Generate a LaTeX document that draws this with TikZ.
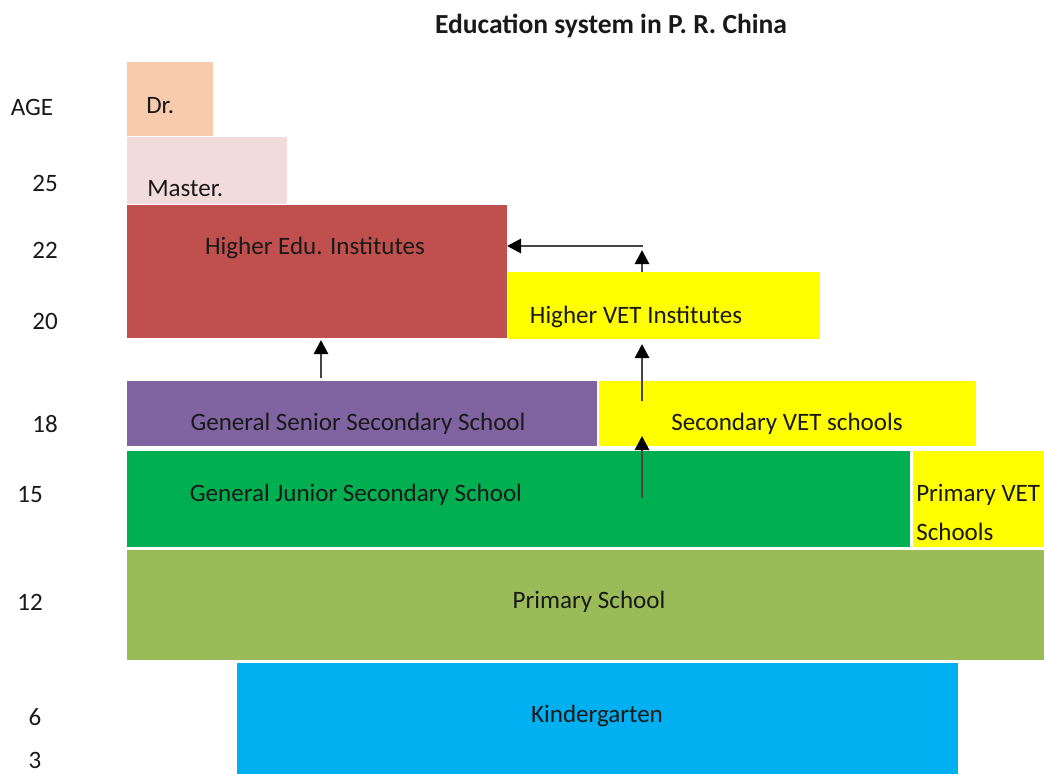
\documentclass[tikz,border=0pt]{standalone}
\usepackage{fontspec}
\setmainfont{Carlito}
\usetikzlibrary{positioning, arrows.meta}
\definecolor{drcol}{HTML}{F8CBAD}
\definecolor{mastercol}{HTML}{F2DCDB}
\definecolor{hecol}{HTML}{C0504D}
\definecolor{vetcol}{HTML}{FFFF00}
\definecolor{seniorcol}{HTML}{8064A2}
\definecolor{juniorcol}{HTML}{00B050}
\definecolor{primcol}{HTML}{9BBB59}
\definecolor{kindcol}{HTML}{00B0F0}
\begin{document}
\begin{tikzpicture}[
        x=0.025cm, y=-0.025cm,
        every node/.style={font=\fontsize{17.8}{21}\selectfont, text=black!90},
        box/.style={rectangle, anchor=north west, inner sep=0pt, outer sep=0pt},
        txt/.style={inner sep=0pt},
        age/.style={inner sep=0pt},
        edge/.style={-{Triangle[color=black, length=10pt, width=10pt]}, draw=gray!55!black, line width=2pt},
    ]
    \useasboundingbox (0,0) rectangle (1044,774);

    % Title
    \node[txt, font=\fontsize{19.6}{23}\selectfont\bfseries] (title) at (611,26) {Education system in P. R. China};

    % Boxes
    \node[box, fill=drcol, minimum width=86*0.025cm, minimum height=74*0.025cm] (dr) at (127,62) {};
    \node[box, fill=mastercol, minimum width=160*0.025cm, minimum height=67*0.025cm] (master) at (127,137) {};
    \node[box, fill=hecol, minimum width=380*0.025cm, minimum height=133*0.025cm] (hedu) at (127,205) {};
    \node[box, fill=vetcol, minimum width=312*0.025cm, minimum height=67*0.025cm] (hvet) at (508,272) {};
    \node[box, fill=seniorcol, minimum width=470*0.025cm, minimum height=65*0.025cm] (senior) at (127,381) {};
    \node[box, fill=vetcol, minimum width=377*0.025cm, minimum height=65*0.025cm] (svet) at (599,381) {};
    \node[box, fill=juniorcol, minimum width=783*0.025cm, minimum height=96*0.025cm] (junior) at (127,451) {};
    \node[box, fill=vetcol, minimum width=131*0.025cm, minimum height=96*0.025cm] (pvet) at (913,451) {};
    \node[box, fill=primcol, minimum width=917*0.025cm, minimum height=110*0.025cm] (prim) at (127,550) {};
    \node[box, fill=kindcol, minimum width=721*0.025cm, minimum height=111*0.025cm] (kind) at (237,663) {};

    % Box texts
    \node[txt, anchor=west] (drtxt) at (146,106) {Dr.};
    \node[txt, anchor=west] (mastertxt) at (147,189) {Master.};
    \node[txt] (hedutxt) at (315,248) {Higher Edu. Institutes};
    \node[txt] (hvettxt) at (636,317) {Higher VET Institutes};
    \node[txt] (seniortxt) at (358,424) {General Senior Secondary School};
    \node[txt] (svettxt) at (787,424) {Secondary VET schools};
    \node[txt] (juniortxt) at (356,495) {General Junior Secondary School};
    \node[txt, anchor=west] (pvettxt1) at (916,495) {Primary VET};
    \node[txt, anchor=west] (pvettxt2) at (916,532) {Schools};
    \node[txt] (primtxt) at (589,602) {Primary School};
    \node[txt] (kindtxt) at (597,716) {Kindergarten};

    % Ages
    \node[age] (agehead) at (32,107) {AGE};
    \node[age] (a25) at (45,183) {25};
    \node[age] (a22) at (45,250) {22};
    \node[age] (a20) at (45,321) {20};
    \node[age] (a18) at (45,424) {18};
    \node[age] (a15) at (30,495) {15};
    \node[age] (a12) at (30,602) {12};
    \node[age] (a6) at (35,717) {6};
    \node[age] (a3) at (35,760) {3};

    % Arrow ends
    \coordinate (s1) at (321,378);
    \coordinate (e1) at (321,340);
    \coordinate (s2) at (642,498);
    \coordinate (e2) at (642,436);
    \coordinate (s3) at (642,401);
    \coordinate (e3) at (642,344);
    \coordinate (s4) at (642,272);
    \coordinate (e4) at (642,250);
    \coordinate (turn) at (643,246);

    % Arrows
    \draw[edge] (s1) -- (e1);
    \draw[edge] (s2) -- (e2);
    \draw[edge] (s3) -- (e3);
    \draw[edge] (s4) -- (e4);
    \draw[edge] (turn) -- (hedu.east |- turn);

\end{tikzpicture}
\end{document}
